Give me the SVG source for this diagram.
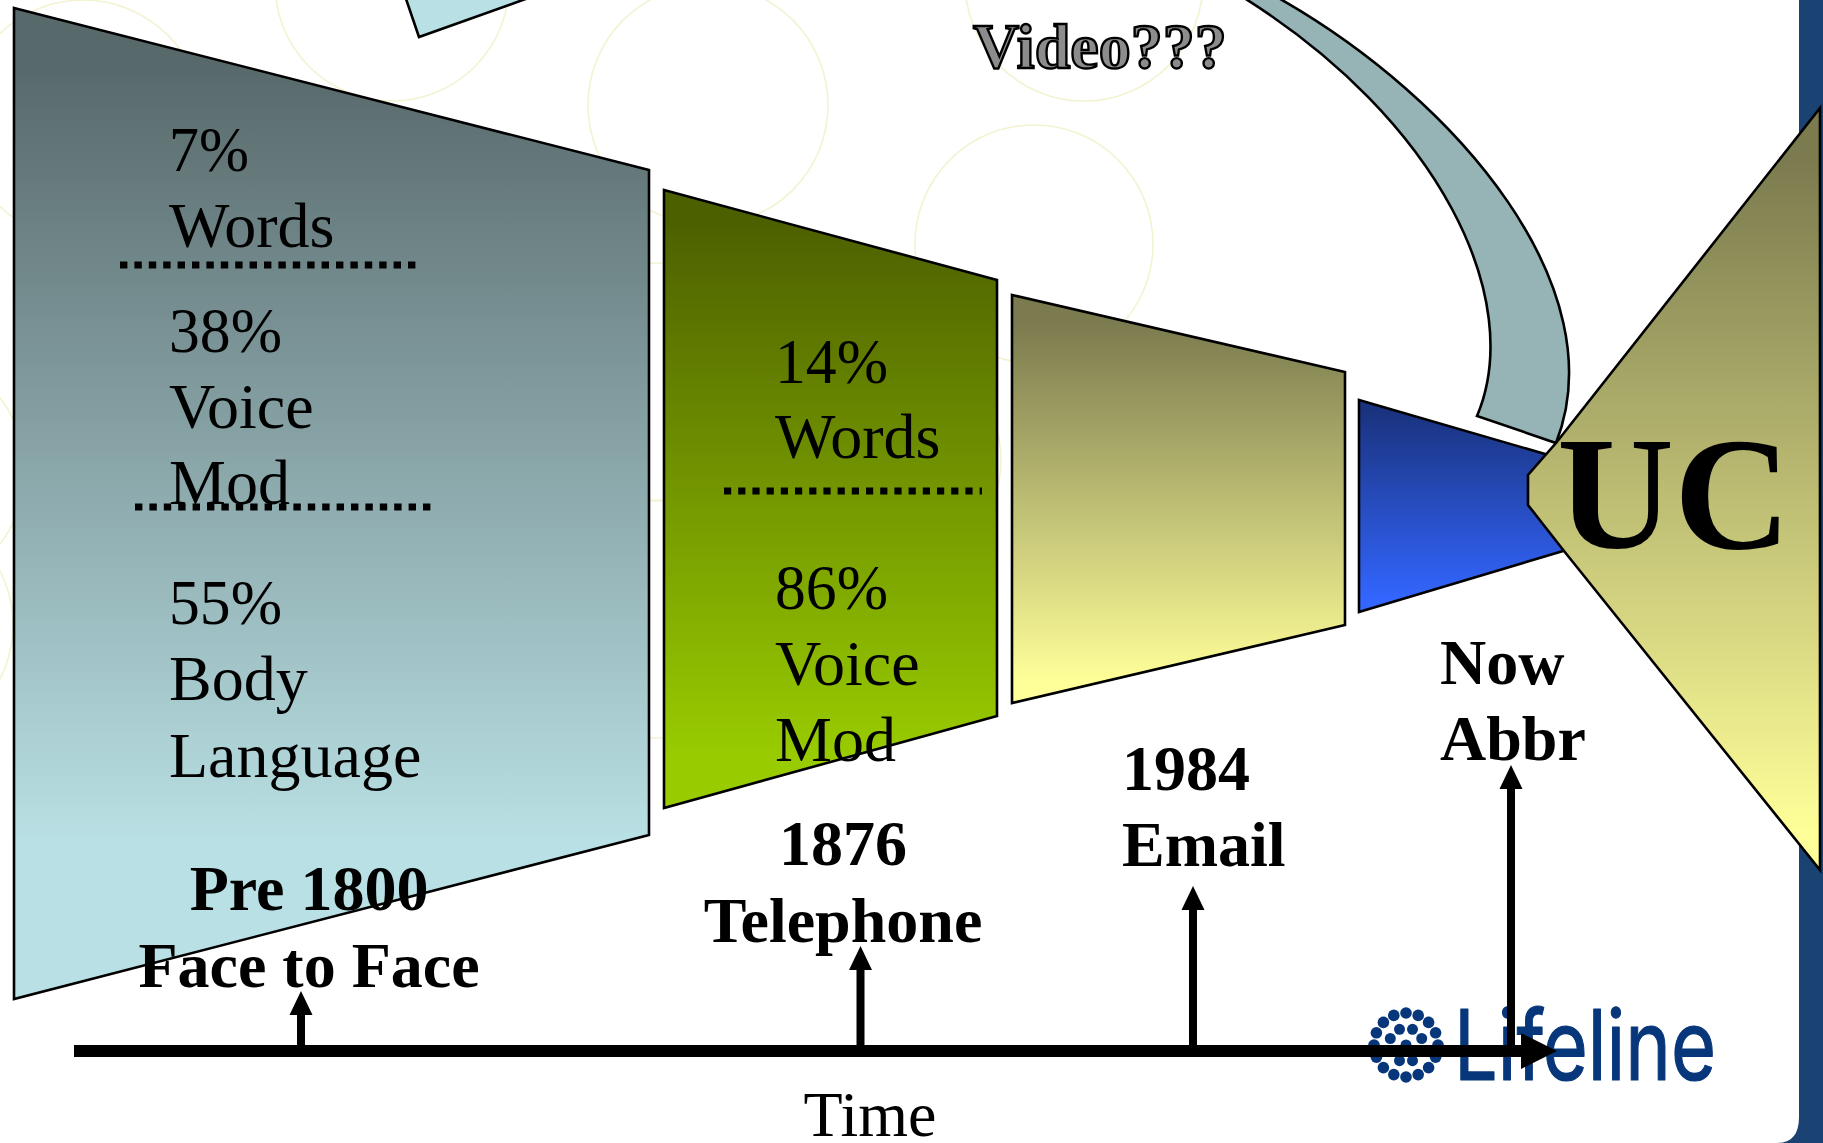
<svg xmlns="http://www.w3.org/2000/svg" width="1823" height="1143" viewBox="0 0 1823 1143">
<style>
text{font-family:"Liberation Serif","Times New Roman",serif;font-size:64px;fill:#000}
.b{font-weight:bold}
.m{text-anchor:middle}
.s{stroke:#000;stroke-width:2.6;stroke-linejoin:miter}
.bg{fill:none;stroke:#f3f3d2;stroke-width:1.6}
.dot{stroke:#000;stroke-width:7;stroke-dasharray:7.4 7;fill:none}
.con{stroke:#000;stroke-width:8;fill:none}
.d{fill:#07377a}
</style>
<defs>
<linearGradient id="g1" x1="0" y1="0" x2="0" y2="1"><stop offset="0.06" stop-color="#58696b"/><stop offset="0.84" stop-color="#b9e0e4"/></linearGradient>
<linearGradient id="g2" x1="0" y1="0" x2="0" y2="1"><stop offset="0.05" stop-color="#4d6000"/><stop offset="0.92" stop-color="#99cc00"/></linearGradient>
<linearGradient id="g3" x1="0" y1="0" x2="0" y2="1"><stop offset="0.07" stop-color="#7b7b4f"/><stop offset="0.95" stop-color="#ffff99"/></linearGradient>
<linearGradient id="g4" x1="0" y1="0" x2="0" y2="1"><stop offset="0.05" stop-color="#1a337f"/><stop offset="0.95" stop-color="#3366ff"/></linearGradient>
<marker id="up" markerUnits="userSpaceOnUse" markerWidth="24" markerHeight="24" refX="0" refY="12" orient="auto"><path d="M0 0.5L24 12L0 23.5Z" fill="#000"/></marker>
<marker id="big" markerUnits="userSpaceOnUse" markerWidth="37" markerHeight="37" refX="0" refY="18.5" orient="auto"><path d="M0 0.5L36 18.5L0 36.5Z" fill="#000"/></marker>
</defs>
<rect width="1823" height="1143" fill="#fff"/>
<g id="background">
<circle class="bg" cx="83" cy="120" r="120"/>
<circle class="bg" cx="392" cy="-16" r="117"/>
<circle class="bg" cx="708" cy="105" r="120"/>
<circle class="bg" cx="1034" cy="244" r="119"/>
<circle class="bg" cx="1084" cy="-18" r="119"/>
<circle class="bg" cx="-94" cy="471" r="119"/>
<circle class="bg" cx="-106" cy="625" r="119"/>
<circle class="bg" cx="657" cy="382" r="119"/>
<circle class="bg" cx="657" cy="619" r="119"/>
<circle class="bg" cx="882" cy="460" r="119"/>
<path d="M1799 0V1117Q1799 1143 1777 1143H1823V0Z" fill="#1a4272"/>
</g>
<g id="logo">
<g id="logo-dots">
<circle class="d" cx="1406" cy="1045" r="5.5"/>
<circle class="d" cx="1406" cy="1013" r="5.8"/><circle class="d" cx="1418.2" cy="1015.4" r="5.8"/><circle class="d" cx="1428.6" cy="1022.4" r="5.8"/><circle class="d" cx="1435.6" cy="1032.8" r="5.8"/><circle class="d" cx="1438" cy="1045" r="5.8"/><circle class="d" cx="1435.6" cy="1057.2" r="5.8"/><circle class="d" cx="1428.6" cy="1067.6" r="5.8"/><circle class="d" cx="1418.2" cy="1074.6" r="5.8"/><circle class="d" cx="1406" cy="1077" r="5.8"/><circle class="d" cx="1393.8" cy="1074.6" r="5.8"/><circle class="d" cx="1383.4" cy="1067.6" r="5.8"/><circle class="d" cx="1376.4" cy="1057.2" r="5.8"/><circle class="d" cx="1374" cy="1045" r="5.8"/><circle class="d" cx="1376.4" cy="1032.8" r="5.8"/><circle class="d" cx="1383.4" cy="1022.4" r="5.8"/><circle class="d" cx="1393.8" cy="1015.4" r="5.8"/>
<circle class="d" cx="1412.5" cy="1029.3" r="5.5"/><circle class="d" cx="1421.7" cy="1038.5" r="5.5"/><circle class="d" cx="1421.7" cy="1051.5" r="5.5"/><circle class="d" cx="1412.5" cy="1060.7" r="5.5"/><circle class="d" cx="1399.5" cy="1060.7" r="5.5"/><circle class="d" cx="1390.3" cy="1051.5" r="5.5"/><circle class="d" cx="1390.3" cy="1038.5" r="5.5"/><circle class="d" cx="1399.5" cy="1029.3" r="5.5"/>
</g>
<text x="1454" y="1080" textLength="262" lengthAdjust="spacingAndGlyphs" style="font-family:Inter,Lato,sans-serif;font-size:98px;fill:#07377a;stroke:#07377a;stroke-width:1.2;stroke-linejoin:round">Lifeline</text>
</g>
<g id="node-top-fragment"><polygon class="s" points="405,-4 419,37 534,-4" fill="#b9e0e4"/></g>
<g id="node-face">
<polygon class="s" points="14,8 649,170 649,835 14,999" fill="url(#g1)"/>
</g>
<g id="node-telephone">
<polygon class="s" points="664,190 997,280 997,716 664,808" fill="url(#g2)"/>
</g>
<g id="node-email">
<polygon class="s" points="1012,295 1345,372 1345,625 1012,703" fill="url(#g3)"/>
</g>
<g id="node-abbr">
<polygon class="s" points="1359,400 1600,470 1600,540 1359,612" fill="url(#g4)"/>
</g>
<g id="node-video-arc">
<path class="s" d="M1241-4C1440 120 1526 300 1477 416L1556 443C1616 290 1460 100 1275-4Z" fill="#96b3b5"/>
</g>
<g id="node-uc">
<polygon class="s" points="1556,443 1820,108 1820,870 1564,551 1528,505 1528,475" fill="url(#g3)"/>
<text class="b" x="1557" y="548" style="font-size:162px">UC</text>
</g>
<g id="connectors">
<line class="con" x1="301" y1="1051" x2="301" y2="1015" marker-end="url(#up)"/>
<line class="con" x1="860.5" y1="1051" x2="860.5" y2="970" marker-end="url(#up)"/>
<line class="con" x1="1193" y1="1051" x2="1193" y2="910" marker-end="url(#up)"/>
<line class="con" x1="1511" y1="1051" x2="1511" y2="789" marker-end="url(#up)"/>
<line x1="74" y1="1051" x2="1521" y2="1051" stroke="#000" stroke-width="12" marker-end="url(#big)"/>
<line class="dot" x1="120" y1="265" x2="416" y2="265"/>
<line class="dot" x1="135" y1="507" x2="431" y2="507"/>
<line class="dot" x1="724" y1="491" x2="982" y2="491" style="stroke-dasharray:7.2 7"/>
</g>
<g id="labels">
<text x="169" y="171" textLength="80" lengthAdjust="spacingAndGlyphs">7%</text>
<text x="169" y="247">Words</text>
<text x="169" y="352" textLength="113" lengthAdjust="spacingAndGlyphs">38%</text>
<text x="169" y="428">Voice</text>
<text x="169" y="504">Mod</text>
<text x="169" y="624" textLength="113" lengthAdjust="spacingAndGlyphs">55%</text>
<text x="169" y="700">Body</text>
<text x="169" y="777">Language</text>
<text x="775" y="383" textLength="113" lengthAdjust="spacingAndGlyphs">14%</text>
<text x="775" y="458">Words</text>
<text x="775" y="609" textLength="113" lengthAdjust="spacingAndGlyphs">86%</text>
<text x="775" y="685">Voice</text>
<text x="775" y="761">Mod</text>
<text class="b m" x="309" y="910">Pre 1800</text>
<text class="b m" x="309" y="987">Face to Face</text>
<text class="b m" x="843" y="865">1876</text>
<text class="b m" x="843" y="942">Telephone</text>
<text class="b" x="1122" y="790">1984</text>
<text class="b" x="1122" y="866">Email</text>
<text class="b" x="1440" y="684">Now</text>
<text class="b" x="1440" y="760">Abbr</text>
<text class="m" x="870" y="1136">Time</text>
<text class="b" x="973" y="68" style="fill:#8c8c8c;stroke:#000;stroke-width:2.4">Video???</text>
</g>
</svg>
